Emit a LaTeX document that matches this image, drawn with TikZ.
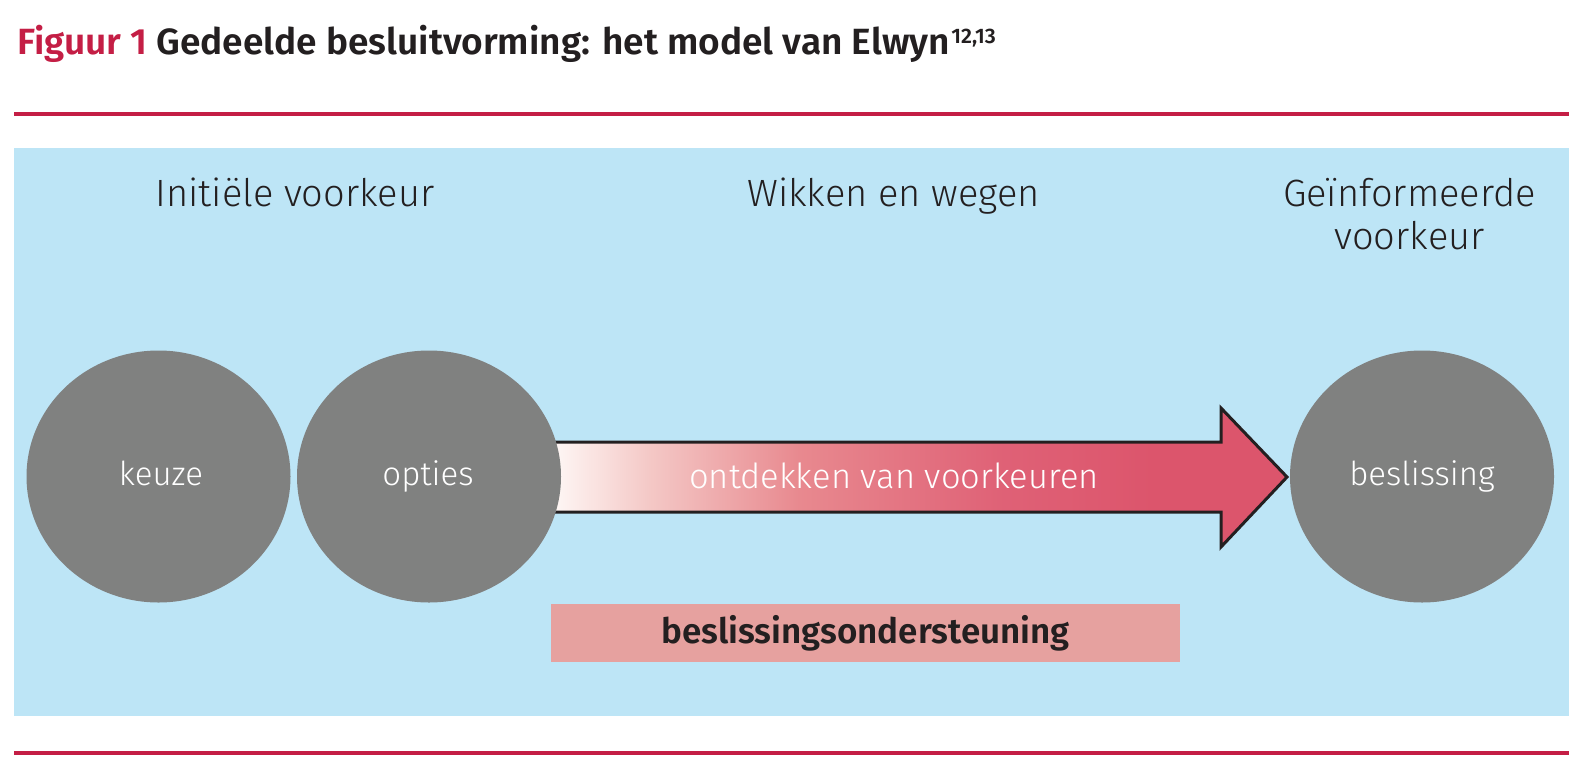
\documentclass[tikz,border=0pt]{standalone}
\usepackage{fontspec}
\setmainfont{Fira Sans Light}
\newfontfamily\titlefont[FakeStretch=1.015]{Fira Sans SemiBold}
\newfontfamily\boxfont{Fira Sans SemiBold}
\newfontfamily\lightfont{Fira Sans Light}
\usetikzlibrary{shapes.geometric}
\definecolor{figred}{HTML}{C41E45}
\definecolor{textdark}{HTML}{231F20}
\definecolor{panelblue}{HTML}{BDE5F6}
\definecolor{circgray}{HTML}{808180}
\definecolor{boxpink}{HTML}{E6A19F}
\definecolor{gA}{HTML}{FEF6F4}
\definecolor{gB}{HTML}{F4C8C6}
\definecolor{gC}{HTML}{E8898F}
\definecolor{gD}{HTML}{DF6176}
\definecolor{gE}{HTML}{DC556C}
\pgfdeclarehorizontalshading{arrowshade}{100bp}{color(0bp)=(gA); color(28.5bp)=(gA); color(34.5bp)=(gB); color(44bp)=(gC); color(57bp)=(gD); color(66.5bp)=(gE); color(100bp)=(gE)}
\tikzset{
  rule/.style={fill=figred, draw=none},
  stage/.style={font=\lightfont\fontsize{38}{44}\selectfont, text=textdark, anchor=base, inner sep=0pt, align=center},
  ball/.style={ellipse, fill=circgray, draw=none, minimum width=264pt, minimum height=252pt, inner sep=0pt},
  balltext/.style={font=\lightfont\fontsize{33}{40}\selectfont, text=white, anchor=base, inner sep=0pt},
}
\begin{document}
\begin{tikzpicture}[x=1pt,y=-1pt]
\useasboundingbox (0,0) rectangle (1585,766);
\fill[white] (0,0) rectangle (1585,766);
% title
\node[anchor=base west, inner sep=0pt, font=\titlefont\fontsize{36.5}{42}\selectfont] (title) at (17,54)
  {\textcolor{figred}{Figuur 1} \textcolor{textdark}{Gedeelde besluitvorming: het model van Elwyn\kern1.5pt\raisebox{11pt}{\fontsize{21}{22}\selectfont 12,13}}};
% rules
\fill[rule] (14,112) rectangle (1569,116);
\fill[rule] (14,751) rectangle (1569,755);
% panel
\fill[panelblue] (14,148) rectangle (1569,716);
% stage labels
\node[stage] (initial) at (295,206) {Initiële voorkeur};
\node[stage] (wikken) at (893.5,206) {Wikken en wegen};
\node[stage] (geinf) at (1409.5,206) {Geïnformeerde};
\node[stage] (geinf2) at (1409.5,249) {voorkeur};
% arrow
\coordinate (a1) at (500,442);
\coordinate (a2) at (1221,442);
\coordinate (a3) at (1221,408);
\coordinate (tip) at (1287,477);
\coordinate (a5) at (1221,547);
\coordinate (a6) at (1221,512);
\coordinate (a7) at (500,512);
\path[shading=arrowshade, draw=textdark, line width=3pt, line join=miter]
  (a1) -- (a2) -- (a3) -- (tip) -- (a5) -- (a6) -- (a7) -- cycle;
\node[balltext, font=\lightfont\fontsize{34.5}{40}\selectfont] (ontdek) at (894,488) {ontdekken van voorkeuren};
% circles
\node[ball] (keuze) at (158.5,476.5) {};
\node[ball] (opties) at (429,476.5) {};
\node[ball] (besl) at (1422,476.5) {};
\node[balltext] (keuzet) at (161,485) {keuze};
\node[balltext] (optiest) at (428,485) {opties};
\node[balltext] (beslt) at (1422,485) {beslissing};
% support box
\node[fill=boxpink, minimum width=629pt, minimum height=58pt, inner sep=0pt] (support) at (865.5,633) {};
\node[anchor=base, inner sep=0pt, font=\boxfont\fontsize{35}{40}\selectfont, text=textdark] (supportt) at (865.5,643) {beslissingsondersteuning};
\end{tikzpicture}
\end{document}
